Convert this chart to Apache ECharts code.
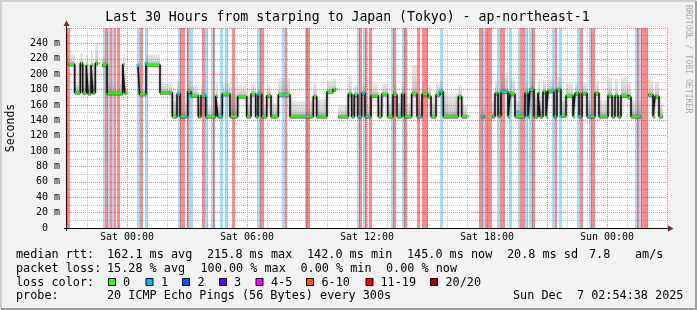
<!DOCTYPE html>
<html>
<head>
<meta charset="utf-8">
<script src="https://cdn.jsdelivr.net/npm/echarts@6/dist/echarts.min.js"></script>
<style>
html, body { margin: 0; padding: 0; background: #f2f2f2; }
#chart { width: 697px; height: 310px; }
</style>
</head>
<body>
<div id="chart"></div>
<script>
// x values are hours relative to Sat 00:00, y values are milliseconds
var tickHours = [0, 6, 12, 18, 24];
var tickNames = ['Sat 00:00', 'Sat 06:00', 'Sat 12:00', 'Sat 18:00', 'Sun 00:00'];

// median rtt (step line), null = no data
var medT = [-2.95, -2.615, -2.335, -2.215, -2.035, -1.95, -1.8, -1.715, -1.585, -1.45, -1.45,
  -1.25, -1.0, -0.215, -0.115, -0.025, -0.025,
  0.55, 0.625, 0.95, 1.65, 2.265, 2.5, 2.65, 3.035, 3.2, 3.565, 3.7, 3.935, 4.435, 4.535, 4.765,
  5.15, 5.535, 5.985, 6.2, 6.435, 6.55, 6.735, 6.985, 7.2, 7.565, 8.15, 9.315, 9.485, 10.0, 10.3, 10.45, 10.45,
  10.55, 11.065, 11.235, 11.365, 11.535, 11.735, 11.9, 12.2, 12.565, 12.735, 13.035, 13.3, 13.5, 13.735, 13.865,
  14.235, 14.5, 14.75, 15.05, 15.2, 15.45, 15.65, 15.815, 16.565, 16.735, 17.0, 17.0,
  17.7, 17.9, 17.9,
  18.25, 18.4, 18.55, 18.7, 19.05, 19.15, 19.4, 19.9, 20.05, 20.15, 20.35, 20.55, 20.65, 20.8, 20.95,
  21.05, 21.35, 21.5, 21.7, 21.95, 22.3, 22.4, 22.6, 22.75, 23.0, 23.4, 23.6, 24.05, 24.25, 24.4,
  24.55, 24.7, 25.05, 25.2, 25.7, 25.7,
  26.05, 26.3, 26.4, 26.6, 26.8];
var medV = [213, 176, 214, 176, 212, 175, 212, 176, 214, 214, null,
  212, 175, 213, 176, 176, null,
  211, 174, 212, 176, 145, 174, 145, 177, 172, 145, 172, 145, 172, 145, 174,
  145, 171, 145, 174, 145, 174, 145, 172, 145, 173, 145, 171, 145, 177, 180, 180, null,
  145, 174, 145, 173, 145, 175, 145, 172, 145, 174, 145, 173, 145, 174, 145,
  174, 145, 174, 171, 145, 173, 177, 145, 171, 145, 145, null,
  145, 145, null,
  145, 175, 146, 177, 145, 174, 145, 175, 145, 180, 145, 176, 145, 177, 145,
  178, 145, 180, 146, 172, 145, 175, 145, 175, 145, 175, 145, 172, 145, 172,
  145, 172, 170, 145, 145, null,
  173, 145, 171, 145, 145];
// upper edge of the smoke for each median step
var smokeTop = [226, 186, 228, 185, 226, 186, 232, 190, 240, 230, null,
  224, 188, 226, 186, 186, null,
  218, 182, 226, 188, 165, 190, 162, 192, 186, 160, 186, 158, 190, 160, 188,
  200, 186, 160, 188, 160, 188, 160, 186, 162, 195, 165, 190, 168, 192, 194, 194, null,
  160, 199, 162, 186, 160, 188, 160, 188, 160, 188, 162, 188, 162, 188, 162,
  212, 165, 188, 186, 162, 188, 192, 175, 186, 160, 158, null,
  160, 160, null,
  165, 192, 175, 202, 170, 195, 165, 190, 165, 198, 168, 192, 165, 192, 166,
  194, 165, 196, 165, 190, 164, 190, 165, 190, 165, 192, 166, 196, 168, 194,
  166, 196, 190, 165, 160, null,
  194, 168, 190, 160, 158];

// medians measured with 1 lost ping
var blueT = [0.55, 0.95, 2.57, 2.95, 3.165, 3.91, 4.715, 6.585, 7.865, 8.9, 11.615, 11.815, 12.065,
  14.65, 15.65, 17.75, 18.75, 18.965, 19.55, 20.165, 21.3, 21.685, 22.6, 23.185, 25.65];
var blueV = [211, 214, 174, 145, 172, 172, 145, 174, 173, 145, 145, 175, 145,
  145, 177, 145, 177, 178, 151, 180, 179, 145, 145, 146, 145];

// packet loss background: start hour, end hour, kind (0 = some loss, 1 = heavy loss)
var lossStart = [-2.985, -1.2, -1.085, -0.95, -0.85, -0.735, -0.65, -0.485, 0.535, 0.65, 0.9,
  2.565, 2.675, 2.8, 3.0, 3.125, 3.785, 3.925, 4.235, 4.315, 4.675, 4.925, 5.275,
  6.54, 6.685, 7.785, 7.9, 8.9, 8.99, 11.525, 11.625, 11.825, 11.925, 12.1,
  13.235, 13.315, 13.785, 13.875, 14.525, 14.785, 15.65,
  17.635, 17.775, 17.9, 18.54, 18.65, 18.785, 19.115, 19.55, 19.65, 19.775, 19.915, 20.14, 20.26,
  21.285, 21.4, 21.625, 22.535, 22.65, 23.115, 23.235, 25.4, 25.515, 25.615, 25.735];
var lossEnd = [-2.85, -1.1, -0.985, -0.85, -0.765, -0.65, -0.565, -0.35, 0.65, 0.765, 1.035,
  2.675, 2.775, 2.9, 3.1, 3.275, 3.9, 4.05, 4.315, 4.4, 4.775, 5.05, 5.4,
  6.685, 6.815, 7.9, 8.0, 8.99, 9.15, 11.625, 11.735, 11.925, 12.0, 12.225,
  13.315, 13.415, 13.875, 13.985, 14.65, 15.015, 15.765,
  17.775, 17.9, 18.24, 18.65, 18.735, 18.9, 19.235, 19.65, 19.74, 19.875, 20.035, 20.26, 20.4,
  21.4, 21.485, 21.75, 22.65, 22.765, 23.235, 23.4, 25.515, 25.6, 25.725, 26.015];
var lossKind = [1, 0, 1, 0, 1, 0, 1, 1, 0, 1, 0,
  0, 1, 1, 1, 0, 1, 0, 0, 1, 0, 0, 1,
  0, 1, 0, 1, 0, 1, 0, 1, 0, 1, 1,
  0, 1, 0, 1, 1, 1, 0,
  1, 0, 1, 0, 1, 1, 0, 0, 1, 1, 0, 0, 1,
  0, 1, 0, 0, 1, 0, 1, 0, 1, 0, 1];

var lossNames = ['0', '1', '2', '3', '4-5', '6-10', '11-19', '20/20'];
var lossColors = ['#26ff00', '#00b8ff', '#0059ff', '#5e00ff', '#ff00ff', '#ff5500', '#ff0000', '#a10000'];

var statLines = [
  ['median rtt:', '162.1 ms avg', '215.8 ms max', '142.0 ms min', '145.0 ms now', '20.8 ms sd', '7.8', 'am/s'],
  ['packet loss:', '15.28 % avg', '100.00 % max', '0.00 % min', '0.00 % now']
];

var Y_MAX = 260;
var MONO = '"DejaVu Sans Mono", monospace';
var lossFill = ['rgba(0,168,236,0.38)', 'rgba(255,0,0,0.46)'];

var chart = echarts.init(document.getElementById('chart'));

var lossData = lossStart.map(function (s, i) { return [s, lossEnd[i], lossKind[i]]; });
var stepData = medT.map(function (t, i) { return [t, medV[i]]; });
var segData = [];
for (var i = 0; i < medT.length - 1; i++) {
  if (medV[i] !== null) segData.push([medT[i], medT[i + 1], medV[i], smokeTop[i]]);
}
var blueData = blueT.map(function (t, i) { return [t, blueV[i]]; });

function rectBetween(api, x0, x1, y0, y1, snap) {
  var a = api.coord([x0, y1]);
  var b = api.coord([x1, y0]);
  if (snap) {
    // whole pixel columns, like the rrd background bars
    var l = Math.floor(a[0]), r = Math.ceil(b[0]);
    return { x: l, y: a[1], width: Math.max(r - l, 2), height: b[1] - a[1] };
  }
  return { x: a[0], y: a[1], width: b[0] - a[0], height: b[1] - a[1] };
}

var smokeFill = new echarts.graphic.LinearGradient(0, 0, 0, 1, [
  { offset: 0, color: 'rgba(170,170,170,0.25)' },
  { offset: 0.7, color: 'rgba(130,130,130,0.4)' },
  { offset: 1, color: 'rgba(60,60,60,0.55)' }
]);

// stats text and colour boxes of the legend area
var graphics = [];
var colX = [[16, 107, 207, 307, 407, 507, 589, 635], [16, 107, 200.5, 300.5, 386]];
var lineY = [255, 268.5];
statLines.forEach(function (line, li) {
  line.forEach(function (txt, k) {
    graphics.push({ type: 'text', x: colX[li][k], y: lineY[li],
      style: { text: txt, fontFamily: MONO, fontSize: 11.8, fill: '#000', verticalAlign: 'middle' } });
  });
});
graphics.push({ type: 'text', x: 16, y: 282.5,
  style: { text: 'loss color:', fontFamily: MONO, fontSize: 11.8, fill: '#000', verticalAlign: 'middle' } });
var boxX = [108.5, 146, 182.5, 219.5, 256, 306.5, 366, 430.5];
var nameX = [123, 161, 197.5, 234, 271, 321.5, 380.5, 445.5];
lossNames.forEach(function (n, k) {
  graphics.push({ type: 'rect', shape: { x: boxX[k], y: 278.5, width: 7, height: 7 },
    style: { fill: lossColors[k], stroke: '#000', lineWidth: 1 } });
  graphics.push({ type: 'text', x: nameX[k], y: 282.5,
    style: { text: n, fontFamily: MONO, fontSize: 11.8, fill: '#000', verticalAlign: 'middle' } });
});
graphics.push({ type: 'text', x: 16, y: 296,
  style: { text: 'probe:', fontFamily: MONO, fontSize: 11.8, fill: '#000', verticalAlign: 'middle' } });
graphics.push({ type: 'text', x: 107, y: 296,
  style: { text: '20 ICMP Echo Pings (56 Bytes) every 300s', fontFamily: MONO, fontSize: 11.8, fill: '#000', verticalAlign: 'middle' } });
graphics.push({ type: 'text', x: 513, y: 296,
  style: { text: 'Sun Dec  7 02:54:38 2025', fontFamily: MONO, fontSize: 11.8, fill: '#000', verticalAlign: 'middle' } });

// title, axis caption and watermark
graphics.push({ type: 'text', x: 347.5, y: 18,
  style: { text: 'Last 30 Hours from starping to Japan (Tokyo) - ap-northeast-1', fontFamily: MONO,
    fontSize: 13.2, fill: '#000', align: 'center', verticalAlign: 'middle' } });
graphics.push({ type: 'text', x: 11, y: 128, rotation: Math.PI / 2,
  style: { text: 'Seconds', fontFamily: MONO, fontSize: 11.5, fill: '#000', align: 'center', verticalAlign: 'middle' } });
graphics.push({ type: 'text', x: 688.5, y: 5, rotation: -Math.PI / 2,
  style: { text: 'RRDTOOL / TOBI OETIKER', fontFamily: MONO, fontSize: 8.2, fill: '#aaaaaa', align: 'left', verticalAlign: 'middle' } });

// axes with arrows
graphics.push({ type: 'line', shape: { x1: 66.5, y1: 231, x2: 66.5, y2: 24 }, style: { stroke: '#000', lineWidth: 1 }, z: 10 });
graphics.push({ type: 'line', shape: { x1: 64, y1: 228.5, x2: 669, y2: 228.5 }, style: { stroke: '#000', lineWidth: 1 }, z: 10 });
graphics.push({ type: 'polygon', shape: { points: [[63.5, 26], [69.5, 26], [66.5, 20.5]] }, style: { fill: '#7f1f1f' }, z: 10 });
graphics.push({ type: 'polygon', shape: { points: [[668, 225.5], [668, 231.5], [673.5, 228.5]] }, style: { fill: '#7f1f1f' }, z: 10 });

// 3d frame
graphics.push({ type: 'polyline', shape: { points: [[1, 309], [1, 1], [696, 1]] }, style: { stroke: '#cfcfcf', lineWidth: 2, fill: null } });
graphics.push({ type: 'polyline', shape: { points: [[1, 309], [696, 309], [696, 1]] }, style: { stroke: '#9e9e9e', lineWidth: 2, fill: null } });

var option = {
  animation: false,
  backgroundColor: '#f2f2f2',
  textStyle: { fontFamily: MONO },
  grid: { left: 67, top: 28, width: 600, height: 200, containLabel: false, outerBoundsMode: 'none',
    show: true, backgroundColor: '#ffffff', borderWidth: 0 },
  xAxis: {
    type: 'value', min: -3, max: 27, interval: 3,
    axisLine: { show: false },
    axisTick: { show: false },
    minorTick: { show: false, splitNumber: 3 },
    axisLabel: {
      fontFamily: MONO, fontSize: 10, color: '#000', margin: 4,
      showMinLabel: true, showMaxLabel: true,
      formatter: function (v) {
        var k = tickHours.indexOf(v);
        return k >= 0 ? tickNames[k] : '';
      }
    },
    splitLine: { show: true, lineStyle: { color: '#e38787', width: 1, type: [1, 1] } },
    minorSplitLine: { show: true, lineStyle: { color: '#c4c4c4', width: 1, type: [1, 1] } }
  },
  yAxis: {
    type: 'value', min: 0, max: Y_MAX, interval: 20,
    axisLine: { show: false },
    axisTick: { show: false },
    minorTick: { show: false, splitNumber: 2 },
    axisLabel: {
      fontFamily: MONO, fontSize: 10, color: '#000', margin: 7,
      formatter: function (v) {
        if (v === 0) return '0  ';
        if (v >= Y_MAX) return '';
        return v + ' m';
      }
    },
    splitLine: { show: true, lineStyle: { color: '#e38787', width: 1, type: [1, 1] } },
    minorSplitLine: { show: true, lineStyle: { color: '#c4c4c4', width: 1, type: [1, 1] } }
  },
  graphic: graphics,
  series: [
    {
      type: 'custom', name: 'loss', clip: true, z: 1,
      data: lossData,
      renderItem: function (params, api) {
        return { type: 'rect', shape: rectBetween(api, api.value(0), api.value(1), 0, Y_MAX, true),
          style: { fill: lossFill[api.value(2)] } };
      }
    },
    {
      type: 'custom', name: 'smoke', clip: true, z: 2,
      data: segData,
      renderItem: function (params, api) {
        return { type: 'rect', shape: rectBetween(api, api.value(0), api.value(1), api.value(2) - 3, api.value(3)),
          style: { fill: smokeFill } };
      }
    },
    {
      type: 'line', name: 'median', step: 'end', z: 3,
      data: stepData, showSymbol: false, connectNulls: false,
      lineStyle: { color: '#151515', width: 1.6, shadowBlur: 3, shadowColor: 'rgba(0,0,0,0.45)' }
    },
    {
      type: 'custom', name: 'median0', clip: true, z: 4,
      data: segData,
      renderItem: function (params, api) {
        var a = api.coord([api.value(0), api.value(2)]);
        var b = api.coord([api.value(1), api.value(2)]);
        return { type: 'rect', shape: { x: a[0] + 0.5, y: a[1] - 1.2, width: Math.max(b[0] - a[0] - 1, 1.5), height: 2.4 },
          style: { fill: '#26ff00' } };
      }
    },
    {
      type: 'scatter', name: 'median1', z: 5,
      data: blueData, symbol: 'rect', symbolSize: [3, 3],
      itemStyle: { color: '#00b8ff' }
    }
  ]
};
chart.setOption(option);
</script>
</body>
</html>
